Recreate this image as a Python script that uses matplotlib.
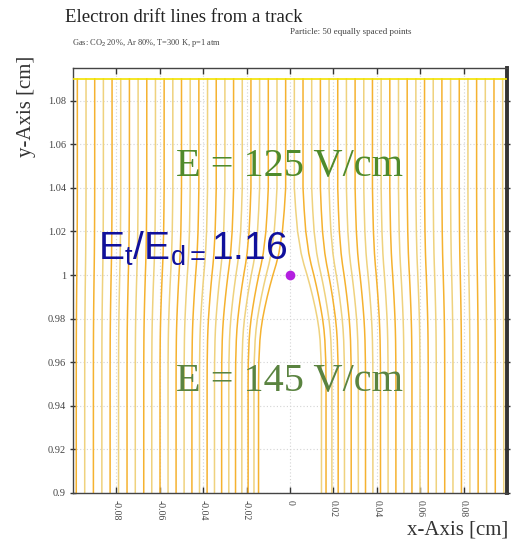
import numpy as np
import matplotlib
matplotlib.use("Agg")
import matplotlib.pyplot as plt

# Drift-line start positions along the track (left half, cm) and where each
# line ends at the bottom of the drift region
LEFT_START = [-0.098, -0.094, -0.090, -0.086, -0.082, -0.078, -0.074, -0.070,
              -0.066, -0.062, -0.058, -0.054, -0.050, -0.046, -0.042, -0.038,
              -0.034, -0.030, -0.026, -0.022, -0.018, -0.014, -0.010, -0.006,
              -0.002]
LEFT_END = [-0.0985, -0.0946, -0.0906, -0.0867, -0.0829, -0.0790, -0.0751,
            -0.0713, -0.0674, -0.0637, -0.0599, -0.0562, -0.0525, -0.0488,
            -0.0452, -0.0417, -0.0382, -0.0348, -0.0315, -0.0282, -0.0251,
            -0.0222, -0.0193, -0.0166, -0.0145]

# Fraction of the sideways shift reached at each height
BEND_Y = [1.09, 1.04, 1.03, 1.02, 1.01, 1.005, 1.0, 0.995, 0.99, 0.985,
          0.98, 0.975, 0.97, 0.96, 0.95, 0.90]
BEND_FRAC = [0.0, 0.0, 0.05, 0.12, 0.25, 0.35, 0.47, 0.58, 0.68, 0.77,
             0.85, 0.91, 0.95, 0.99, 1.0, 1.0]

TRACK_Y = 1.09
CHARGE_X, CHARGE_Y = 0.0, 1.0

X_TICKS = [-0.08, -0.06, -0.04, -0.02, 0.0, 0.02, 0.04, 0.06, 0.08]
X_TICK_LABELS = ["-0.08", "-0.06", "-0.04", "-0.02", "0", "0.02", "0.04", "0.06", "0.08"]
Y_TICKS = [0.9, 0.92, 0.94, 0.96, 0.98, 1.0, 1.02, 1.04, 1.06, 1.08]
Y_TICK_LABELS = ["0.9", "0.92", "0.94", "0.96", "0.98", "1", "1.02", "1.04", "1.06", "1.08"]

plt.rcParams["mathtext.fontset"] = "custom"
plt.rcParams["mathtext.rm"] = "Liberation Sans"
plt.rcParams["mathtext.it"] = "Liberation Sans"

fig = plt.figure(figsize=(5.15, 5.43), dpi=100)
ax = fig.add_axes([73 / 515, 1 - 493 / 543, 434 / 515, 425 / 543])
ax.set_xlim(-0.1, 0.1)
ax.set_ylim(0.9, 1.095)

ax.set_axisbelow(True)
ax.grid(True, color="#d4d4d4", linestyle=(0, (1, 2)), linewidth=0.8)

# Drift lines: left half and its mirror image
bend_y = np.array(BEND_Y)
bend_f = np.array(BEND_FRAC)
line_colors = ["#f5b230", "#efd27e"]
lines = []
for x0, x1 in zip(LEFT_START, LEFT_END):
    xs = x0 + bend_f * (x1 - x0)
    lines.append(xs)
    lines.append(-xs)
lines.sort(key=lambda xs: xs[0])
for rank, xs in enumerate(lines):
    ax.plot(xs, bend_y, color=line_colors[rank % 2], lw=1.1, zorder=2,
            solid_joinstyle="round")

# Track
ax.plot([-0.1, 0.1], [TRACK_Y, TRACK_Y], color="#f2e200", lw=1.2, zorder=3)
# Central charge
ax.plot([CHARGE_X], [CHARGE_Y], "o", color="#b31fe0", ms=7, mec="none", zorder=4)

ax.set_xticks(X_TICKS)
ax.set_xticklabels(X_TICK_LABELS, rotation=270, fontfamily="Liberation Serif",
                   fontsize=7, color="#444444")
ax.set_yticks(Y_TICKS)
ax.set_yticklabels(Y_TICK_LABELS, fontfamily="Liberation Serif", fontsize=7.5,
                   color="#444444")
ax.tick_params(axis="x", direction="in", length=4, width=1, top=True,
               color="#333333", pad=5)
ax.tick_params(axis="y", direction="inout", length=4, width=1, right=True,
               color="#333333", pad=3)

for side in ["left", "bottom", "top"]:
    ax.spines[side].set_color("#444444")
    ax.spines[side].set_linewidth(1.0)
ax.spines["right"].set_color("#333333")
ax.spines["right"].set_linewidth(2.8)

# Field labels
ax.text(0.0, 1.0500, "E = 125 V/cm", fontfamily="Liberation Serif", fontsize=29,
        color="#4f8a2b", ha="center", va="center", zorder=5)
ax.text(0.0, 0.9513, "E = 145 V/cm", fontfamily="Liberation Serif", fontsize=29,
        color="#5a8340", ha="center", va="center", zorder=5)
ax.text(-0.0885, 1.012, r"$\mathrm{E_t/E_{d=}1.16}$", fontsize=28,
        color="#10109c", ha="left", va="center", zorder=5)

fig.text(65 / 515, 1 - 18 / 543, "Electron drift lines from a track",
         fontfamily="Liberation Serif", fontsize=13.5, color="#222222",
         ha="left", va="center")
fig.text(290 / 515, 1 - 32 / 543, "Particle: 50 equally spaced points",
         fontfamily="Liberation Serif", fontsize=6.5, color="#444444",
         ha="left", va="center")
fig.text(72 / 515, 1 - 43 / 543,
         r"Gas: CO$_2$ 20%, Ar 80%, T=300 K, p=1 atm",
         fontfamily="Liberation Serif", fontsize=6, color="#444444",
         ha="left", va="center")
fig.text(27 / 515, 1 - 56 / 543, "y-Axis [cm]", fontfamily="Liberation Serif",
         fontsize=15, color="#333333", rotation=90, ha="center", va="top")
fig.text(508 / 515, 1 - 530 / 543, "x-Axis [cm]", fontfamily="Liberation Serif",
         fontsize=15, color="#333333", ha="right", va="center")

fig.savefig("out.png", dpi=100)
